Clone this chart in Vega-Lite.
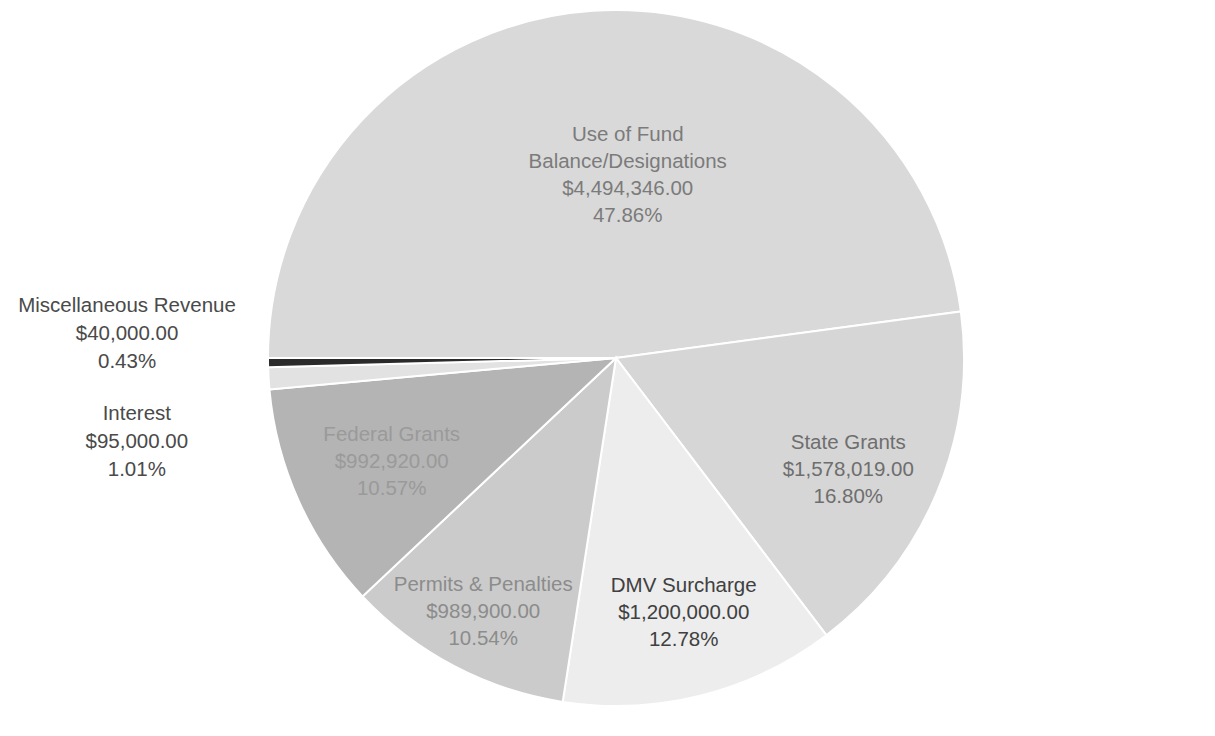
{
  "$schema": "https://vega.github.io/schema/vega-lite/v6.json",
  "width": 1190,
  "height": 716,
  "autosize": {"type": "none"},
  "padding": {"left": 21, "top": 0, "right": 4, "bottom": 20},
  "background": "white",
  "config": {"view": {"stroke": null}},
  "data": {
    "values": [
      {"category": "Use of Fund Balance/Designations", "amount": 4494346, "order": 1, "label": "Use of Fund\nBalance/Designations\n$4,494,346.00\n47.86%"},
      {"category": "State Grants", "amount": 1578019, "order": 2, "label": "State Grants\n$1,578,019.00\n16.80%"},
      {"category": "DMV Surcharge", "amount": 1200000, "order": 3, "label": "DMV Surcharge\n$1,200,000.00\n12.78%"},
      {"category": "Permits & Penalties", "amount": 989900, "order": 4, "label": "Permits & Penalties\n$989,900.00\n10.54%"},
      {"category": "Federal Grants", "amount": 992920, "order": 5, "label": "Federal Grants\n$992,920.00\n10.57%"},
      {"category": "Interest", "amount": 95000, "order": 6, "label": "Interest\n$95,000.00\n1.01%"},
      {"category": "Miscellaneous Revenue", "amount": 40000, "order": 7, "label": "Miscellaneous Revenue\n$40,000.00\n0.43%"}
    ]
  },
  "encoding": {
    "theta": {"field": "amount", "type": "quantitative", "stack": true, "scale": {"range": [-1.5708, 4.7124]}},
    "order": {"field": "order", "type": "quantitative"}
  },
  "layer": [
    {
      "mark": {"type": "arc", "outerRadius": 348, "stroke": "white", "strokeWidth": 2},
      "encoding": {
        "color": {
          "field": "category", "type": "nominal", "legend": null,
          "scale": {
            "domain": ["Use of Fund Balance/Designations", "State Grants", "DMV Surcharge", "Permits & Penalties", "Federal Grants", "Interest", "Miscellaneous Revenue"],
            "range": ["#d9d9d9", "#d6d6d6", "#ededed", "#cbcbcb", "#b4b4b4", "#e2e2e2", "#2a2a2a"]
          }
        }
      }
    },
    {
      "mark": {"type": "text", "font": "Liberation Sans", "fontSize": 20.5, "lineHeight": 27, "lineBreak": "\n", "align": "center", "baseline": "middle", "dx": 24, "dy": -40, "fill": "#7b7b7b"},
      "encoding": {
        "radius": {"value": 183},
        "text": {"condition": {"test": "datum.order === 1", "field": "label"}, "value": ""}
      }
    },
    {
      "mark": {"type": "text", "font": "Liberation Sans", "fontSize": 20.5, "lineHeight": 27, "lineBreak": "\n", "align": "center", "baseline": "middle", "dx": -6, "dy": -14, "fill": "#6e6e6e"},
      "encoding": {
        "radius": {"value": 258},
        "text": {"condition": {"test": "datum.order === 2", "field": "label"}, "value": ""}
      }
    },
    {
      "mark": {"type": "text", "font": "Liberation Sans", "fontSize": 20.5, "lineHeight": 27, "lineBreak": "\n", "align": "center", "baseline": "middle", "dx": 3, "dy": -28, "fill": "#404040"},
      "encoding": {
        "radius": {"value": 264},
        "text": {"condition": {"test": "datum.order === 3", "field": "label"}, "value": ""}
      }
    },
    {
      "mark": {"type": "text", "font": "Liberation Sans", "fontSize": 20.5, "lineHeight": 27, "lineBreak": "\n", "align": "center", "baseline": "middle", "dx": 1, "dy": -27, "fill": "#8c8c8c"},
      "encoding": {
        "radius": {"value": 287},
        "text": {"condition": {"test": "datum.order === 4", "field": "label"}, "value": ""}
      }
    },
    {
      "mark": {"type": "text", "font": "Liberation Sans", "fontSize": 20.5, "lineHeight": 27, "lineBreak": "\n", "align": "center", "baseline": "middle", "dx": 1, "dy": -24, "fill": "#9a9a9a"},
      "encoding": {
        "radius": {"value": 247},
        "text": {"condition": {"test": "datum.order === 5", "field": "label"}, "value": ""}
      }
    },
    {
      "mark": {"type": "text", "font": "Liberation Sans", "fontSize": 20.5, "lineHeight": 28, "lineBreak": "\n", "align": "center", "baseline": "middle", "dy": 28, "fill": "#4a4a4a"},
      "encoding": {
        "radius": {"value": 480},
        "text": {"condition": {"test": "datum.order === 6", "field": "label"}, "value": ""}
      }
    },
    {
      "mark": {"type": "text", "font": "Liberation Sans", "fontSize": 20.5, "lineHeight": 28, "lineBreak": "\n", "align": "center", "baseline": "middle", "dy": -59, "fill": "#4a4a4a"},
      "encoding": {
        "radius": {"value": 489},
        "text": {"condition": {"test": "datum.order === 7", "field": "label"}, "value": ""}
      }
    }
  ]
}
